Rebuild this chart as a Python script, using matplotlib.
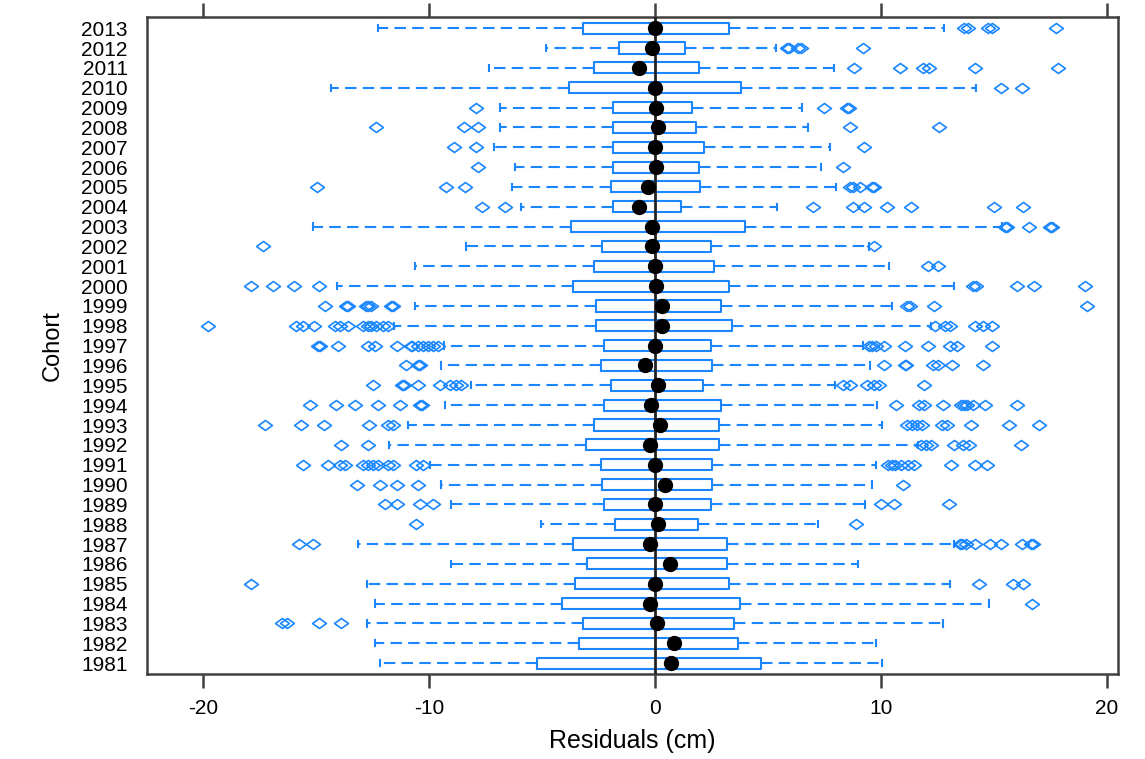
import matplotlib
matplotlib.use('Agg')
import matplotlib.pyplot as plt
from matplotlib.path import Path

plt.rcParams['font.family'] = ['Liberation Sans', 'DejaVu Sans']

# cohorts from bottom (1981) to top (2013)
cohorts = list(range(1981, 2014))

whislo = [-12.2, -12.4, -12.78, -12.41, -12.78, -9.02, -13.15, -5.07, -9.02, -9.49,
          -9.98, -11.78, -10.94, -9.31, -8.16, -9.49, -9.36, -11.57, -10.64, -14.1,
          -10.64, -8.38, -15.14, -5.95, -6.32, -6.22, -7.15, -6.85, -6.85, -14.37,
          -7.35, -4.81, -12.25]
q1 = [-5.25, -3.37, -3.19, -4.11, -3.56, -3.0, -3.64, -1.76, -2.27, -2.34,
      -2.41, -3.08, -2.71, -2.27, -1.97, -2.41, -2.27, -2.63, -2.63, -3.64,
      -2.71, -2.34, -3.71, -1.87, -1.97, -1.87, -1.87, -1.87, -1.87, -3.83,
      -2.71, -1.6, -3.19]
medians = [0.7, 0.82, 0.1, -0.23, 0.0, 0.65, -0.23, 0.13, 0.0, 0.46,
           0.0, -0.23, 0.23, -0.19, 0.13, -0.46, 0.0, 0.31, 0.31, 0.05,
           0.0, -0.15, -0.12, -0.69, -0.3, 0.05, 0.0, 0.13, 0.05, 0.0,
           -0.69, -0.15, 0.0]
q3 = [4.7, 3.67, 3.5, 3.77, 3.28, 3.2, 3.2, 1.88, 2.47, 2.54,
      2.54, 2.82, 2.82, 2.93, 2.13, 2.51, 2.47, 3.39, 2.93, 3.28,
      2.62, 2.47, 3.97, 1.13, 2.0, 1.93, 2.16, 1.8, 1.62, 3.8,
      1.93, 1.31, 3.28]
whishi = [10.05, 9.77, 12.77, 14.77, 13.08, 9.0, 13.23, 7.2, 9.31, 9.62,
          9.77, 11.66, 10.05, 9.85, 7.97, 9.54, 9.2, 12.23, 10.5, 13.23,
          10.34, 9.46, 15.38, 5.39, 8.0, 7.34, 7.73, 6.77, 6.51, 14.2,
          7.93, 5.34, 12.8]
outliers = [
    [],                                                        # 1981
    [],                                                        # 1982
    [-16.54, -16.32, -14.89, -13.89],                          # 1983
    [16.69],                                                   # 1984
    [-17.9, 14.35, 15.84, 16.3],                               # 1985
    [],                                                        # 1986
    [-15.76, -15.17, 13.5, 13.6, 13.77, 14.15, 14.85, 15.31, 16.23, 16.65, 16.75],
    [-10.6, 8.9],                                              # 1988
    [-11.97, -11.45, -10.42, -9.83, 9.99, 10.58, 13.03],       # 1989
    [-13.22, -12.19, -11.45, -10.5, 10.97],                    # 1990
    [-15.58, -14.48, -13.96, -13.74, -12.93, -12.71, -12.49, -12.27, -11.82, -11.6,
     -10.57, -10.28, 10.31, 10.5, 10.62, 10.89, 11.18, 11.48, 13.12, 14.15, 14.69],
    [-13.89, -12.73, 11.77, 12.0, 12.23, 13.26, 13.62, 13.92, 16.2],
    [-17.28, -15.69, -14.65, -12.66, -11.82, -11.6, 11.15, 11.38, 11.6, 11.82,
     12.69, 12.92, 14.0, 15.69, 17.0],
    [-15.29, -14.14, -13.3, -12.29, -11.31, -10.4, -10.3, 10.66, 11.69, 11.92,
     12.74, 13.54, 13.7, 13.8, 14.08, 14.62, 16.04],
    [-12.49, -11.2, -11.1, -10.5, -9.54, -9.1, -8.8, -8.58, 8.31, 8.62, 9.38,
     9.69, 9.93, 11.92],
    [-11.01, -10.5, -10.4, 10.12, 11.05, 11.12, 12.31, 12.54, 13.15, 14.54],
    [-14.95, -14.85, -14.04, -12.71, -12.41, -11.45, -10.8, -10.75, -10.5, -10.28,
     -10.06, -9.84, -9.62, 9.46, 9.6, 9.8, 10.15, 11.08, 12.08, 13.08, 13.38, 14.92],
    [-19.79, -15.9, -15.6, -15.11, -14.17, -13.96, -13.59, -12.93, -12.7, -12.6,
     -12.34, -12.04, -11.82, 12.4, 12.85, 13.08, 14.15, 14.54, 14.92],
    [-14.62, -13.7, -13.6, -12.8, -12.7, -12.6, -11.7, -11.6, 11.15, 11.3, 12.34, 19.15],
    [-17.9, -16.9, -15.98, -14.89, 14.1, 14.2, 16.04, 16.77, 19.04],
    [12.08, 12.54],                                            # 2001
    [-17.35, 9.69],                                            # 2002
    [15.5, 15.6, 16.54, 17.5, 17.6],                           # 2003
    [-7.66, -6.63, 7.0, 8.77, 9.26, 10.28, 11.34, 15.0, 16.3], # 2004
    [-14.99, -9.27, -8.4, 8.65, 8.75, 9.08, 9.6, 9.7],         # 2005
    [-7.84, 8.31],                                             # 2006
    [-8.92, -7.94, 9.26],                                      # 2007
    [-12.37, -8.47, -7.84, 8.62, 12.57],                       # 2008
    [-7.94, 7.46, 8.5, 8.6],                                   # 2009
    [15.3, 16.23],                                             # 2010
    [8.82, 10.86, 11.85, 12.15, 14.15, 17.85],                 # 2011
    [5.85, 5.95, 6.35, 6.45, 9.19],                            # 2012
    [13.7, 13.85, 14.75, 14.9, 17.74],                         # 2013
]

blue = '#1a87ff'
pos = list(range(1, len(cohorts) + 1))

stats = []
for i in range(len(cohorts)):
    stats.append(dict(whislo=whislo[i], q1=q1[i], med=medians[i], q3=q3[i],
                      whishi=whishi[i], fliers=outliers[i]))

# wide open diamond like the original
diamond = Path([(-1, 0), (0, 0.72), (1, 0), (0, -0.72), (-1, 0)],
               [Path.MOVETO, Path.LINETO, Path.LINETO, Path.LINETO, Path.CLOSEPOLY])

fig = plt.figure(figsize=(11.45, 7.59), dpi=100)
ax = fig.add_axes([0.1284, 0.1120, 0.8480, 0.8660])

ax.bxp(stats, positions=pos, widths=0.56, capwidths=0.32, orientation='horizontal',
       showfliers=True, patch_artist=False,
       boxprops=dict(color=blue, linewidth=1.5),
       whiskerprops=dict(color=blue, linewidth=1.5, linestyle=(0, (5.5, 3))),
       capprops=dict(color=blue, linewidth=1.5),
       flierprops=dict(marker=diamond, markersize=10, markerfacecolor='none',
                       markeredgecolor=blue, markeredgewidth=1.2, linestyle='none'),
       medianprops=dict(linestyle='none'))

ax.axvline(0, color='#222222', linewidth=2, zorder=3)
ax.plot(medians, pos, 'o', color='black', markersize=10, zorder=4, linestyle='none')

ax.set_xlim(-22.5, 20.5)
ax.set_ylim(0.45, 33.58)
ax.set_xticks([-20, -10, 0, 10, 20])
ax.set_xticklabels(['-20', '-10', '0', '10', '20'], fontsize=15)
ax.set_yticks(pos)
ax.set_yticklabels([str(c) for c in cohorts], fontsize=15)

ax.tick_params(axis='x', which='both', direction='out', length=10, width=1.8,
               color='#404040', top=True, bottom=True, labeltop=False, pad=8)
ax.tick_params(axis='y', length=0, pad=14)
for s in ax.spines.values():
    s.set_color('#404040')
    s.set_linewidth(1.8)

ax.set_xlabel('Residuals (cm)', fontsize=18, labelpad=8)
ax.set_ylabel('Cohort', fontsize=17, labelpad=12)

fig.savefig('out.png', dpi=100)
